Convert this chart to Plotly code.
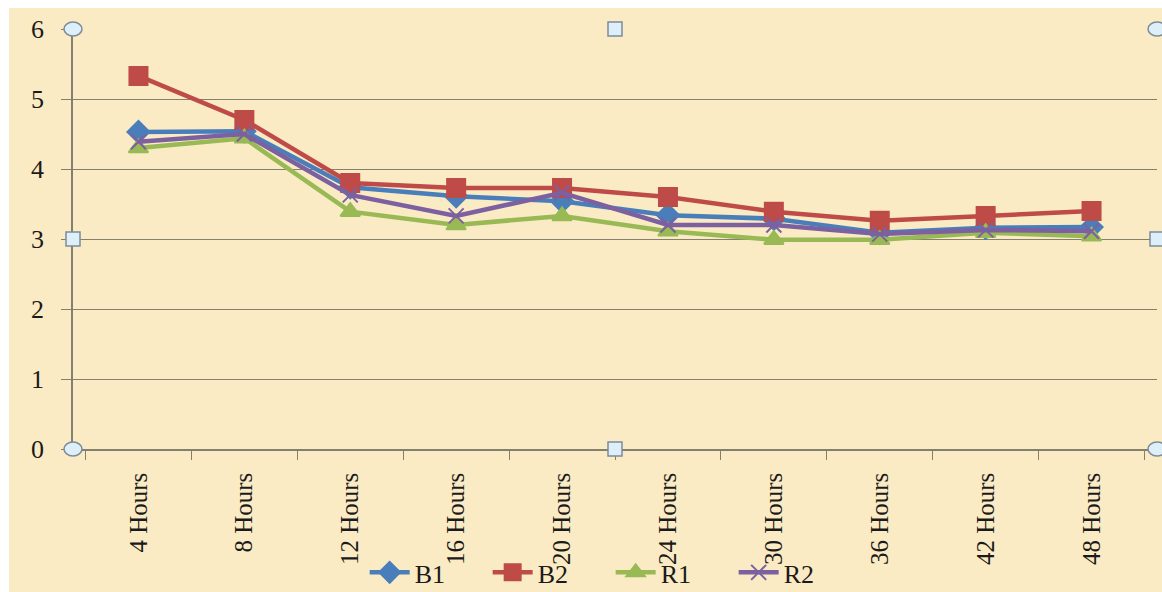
import plotly.graph_objects as go

# Sampling times and readings per sample
hours = ["4 Hours", "8 Hours", "12 Hours", "16 Hours", "20 Hours",
         "24 Hours", "30 Hours", "36 Hours", "42 Hours", "48 Hours"]
b1 = [4.53, 4.54, 3.74, 3.61, 3.54, 3.34, 3.29, 3.09, 3.16, 3.17]
b2 = [5.33, 4.70, 3.80, 3.73, 3.73, 3.60, 3.39, 3.26, 3.33, 3.40]
r1 = [4.30, 4.44, 3.39, 3.20, 3.33, 3.11, 2.99, 2.99, 3.09, 3.04]
r2 = [4.39, 4.50, 3.63, 3.33, 3.66, 3.20, 3.20, 3.07, 3.13, 3.11]

series = [
    ("B1", b1, "#4A7EBB", "diamond", 17),
    ("B2", b2, "#BE4B48", "square", 18),
    ("R1", r1, "#98B954", "triangle-up", 17),
    ("R2", r2, "#7D60A0", "x-thin", 15),
]

bg = "#FAEBC4"
serif = "Liberation Serif"

fig = go.Figure()
for name, vals, color, sym, size in series:
    fig.add_trace(go.Scatter(
        x=hours, y=vals, name=name, mode="lines+markers",
        line=dict(color=color, width=4.5),
        marker=dict(symbol=sym, size=size, color=color,
                    line=dict(color=color, width=2)),
    ))

fig.update_layout(
    width=1162, height=592,
    margin=dict(l=73, r=5, t=29, b=143, autoexpand=False),
    paper_bgcolor=bg, plot_bgcolor=bg,
    font=dict(family=serif, color="#1a1a1a"),
    showlegend=True,
    legend=dict(orientation="h", x=0.496, xanchor="center",
                yref="container", y=0.033, yanchor="middle",
                bgcolor="rgba(0,0,0,0)",
                font=dict(size=26, family=serif),
                entrywidth=68, itemwidth=40, tracegroupgap=0),
)

fig.update_yaxes(
    range=[0, 6], dtick=1, showgrid=True, gridcolor="#857f6e", gridwidth=1,
    showline=True, linecolor="#857f6e", linewidth=1.5,
    ticks="outside", ticklen=10, tickcolor="#857f6e",
    tickfont=dict(size=26, family=serif), ticklabelstandoff=12,
    zeroline=False,
)
fig.update_xaxes(
    type="category", showgrid=False, showline=True, linecolor="#857f6e",
    linewidth=1.5, ticks="outside", tickson="boundaries", ticklen=9,
    tickcolor="#857f6e", tickangle=-90,
    tickfont=dict(size=25, family=serif), ticklabelstandoff=12,
)

# Thin white strip along the top and left edges
fig.add_shape(type="rect", xref="paper", yref="paper", layer="above",
              x0=-0.2, x1=1.1, y0=1.0 + 21 / 420, y1=1.2,
              fillcolor="white", line_width=0)
fig.add_shape(type="rect", xref="paper", yref="paper", layer="above",
              x0=-0.2, x1=-64 / 1084, y0=-0.5, y1=1.2,
              fillcolor="white", line_width=0)

# Selection handles around the plot area
handle_fill = "#DDEFF8"
handle_line = "#7C8C9A"
for px, py in [(0, 0), (1, 0), (0, 1), (1, 1)]:
    fig.add_shape(type="circle", xref="paper", yref="paper", layer="above",
                  x0=px - 9 / 1084, x1=px + 9 / 1084,
                  y0=py - 7 / 420, y1=py + 7 / 420,
                  fillcolor=handle_fill, line=dict(color=handle_line, width=1.5))
for px, py in [(0.5, 0), (0.5, 1), (0, 0.5), (1, 0.5)]:
    fig.add_shape(type="rect", xref="paper", yref="paper", layer="above",
                  x0=px - 7 / 1084, x1=px + 7 / 1084,
                  y0=py - 7 / 420, y1=py + 7 / 420,
                  fillcolor=handle_fill, line=dict(color=handle_line, width=1.5))

fig.write_html("out.html")
